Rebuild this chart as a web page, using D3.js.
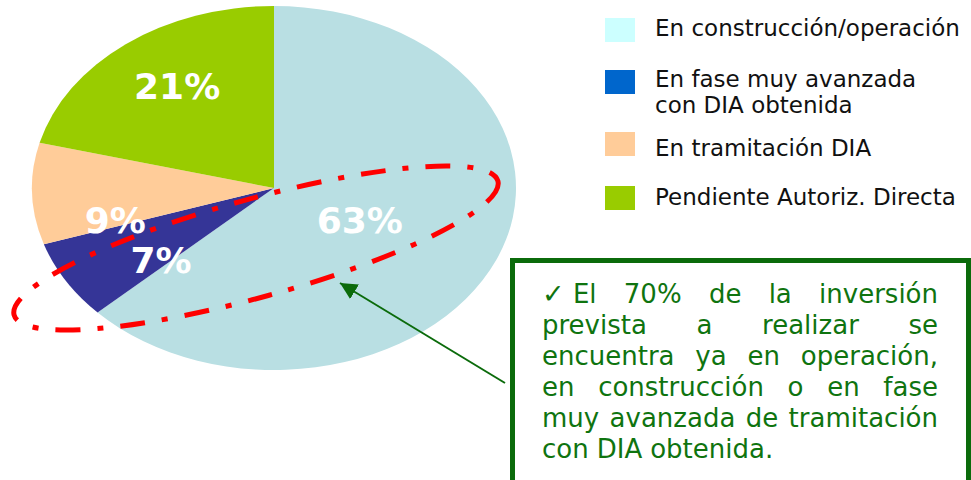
<!DOCTYPE html>
<html>
<head>
<meta charset="utf-8">
<script src="https://cdn.jsdelivr.net/npm/d3@7"></script>
<style>
body { margin: 0; background: #fff; }
svg { display: block; font-family: "DejaVu Sans", Verdana, sans-serif; }
</style>
</head>
<body>
<div class="container"></div>
<script>
// data
var categories = ["En construcción/operación", "En fase muy avanzada con DIA obtenida", "En tramitación DIA", "Pendiente Autoriz. Directa"];
var shares = [63, 7, 9, 21];
var shareLabels = ["63%", "7%", "9%", "21%"];
var legendLines = [["En construcción/operación"], ["En fase muy avanzada", "con DIA obtenida"], ["En tramitación DIA"], ["Pendiente Autoriz. Directa"]];
var noteLines = ["\u2713\u00a0El 70% de la inversión", "prevista a realizar se", "encuentra ya en operación,", "en construcción o en fase", "muy avanzada de tramitación", "con DIA obtenida."];

// styles
var pieColors = ["#b9dfe3", "#353597", "#ffcc99", "#99cc00"];
var legendColors = ["#ccffff", "#0066cc", "#ffcc99", "#99cc00"];
var labelRadius = [0.4, 0.6, 0.66, 0.68];
var labelNudge = [[-3, 3], [12, 16], [1, 28], [4, -4]];

const WIDTH = 971;
const HEIGHT = 480;
const CX = 274, CY = 188, RX = 242, RY = 182;
const GREEN = "#0b6b0b";

var translate = function(x, y){
	return "translate(" + x + "," + y + ")";
};

var svg = d3.select('.container').append('svg')
	.attr('width', WIDTH)
	.attr('height', HEIGHT);

var defs = svg.append('defs');
defs.append('marker')
	.attr('id', 'head')
	.attr('viewBox', '0 0 10 10')
	.attr('refX', 10).attr('refY', 5)
	.attr('markerUnits', 'userSpaceOnUse')
	.attr('orient', 'auto')
	.attr('markerWidth', 17).attr('markerHeight', 17)
	.append('path')
	.attr('d', 'M0,0L10,5L0,10Z')
	.attr('fill', GREEN);

// pie (flattened into an ellipse)
var pie = d3.pie().sort(null).value(function(d){ return d; });
var arcs = pie(shares);
var arc = d3.arc().innerRadius(0).outerRadius(RY);
var sx = RX / RY;

var pieG = svg.append('g')
	.attr('transform', translate(CX, CY) + " scale(" + sx + ",1)");

pieG.selectAll('path').data(arcs)
	.enter().append('path')
	.attr('d', arc)
	.attr('fill', function(d, i){ return pieColors[i]; });

svg.append('g').attr('transform', translate(CX, CY))
	.selectAll('text').data(arcs)
	.enter().append('text')
	.attr('x', function(d, i){
		var a = (d.startAngle + d.endAngle) / 2;
		return Math.sin(a) * labelRadius[i] * RY * sx + labelNudge[i][0];
	})
	.attr('y', function(d, i){
		var a = (d.startAngle + d.endAngle) / 2;
		return -Math.cos(a) * labelRadius[i] * RY + labelNudge[i][1];
	})
	.attr('dy', '0.36em')
	.attr('text-anchor', 'middle')
	.attr('font-size', 36)
	.attr('font-weight', 'bold')
	.attr('fill', '#fff')
	.text(function(d, i){ return shareLabels[i]; });

// red dash-dot ellipse highlighting
svg.append('ellipse')
	.attr('transform', translate(256, 248) + " rotate(-15.5)")
	.attr('rx', 251).attr('ry', 49)
	.attr('fill', 'none')
	.attr('stroke', '#ff0000')
	.attr('stroke-width', 5)
	.attr('stroke-dasharray', '25,17,6,17');

// legend
var legendTop = [18, 70, 132, 186];
var legendBase = [18, 17, 24, 19];
var legend = svg.append('g').attr('transform', translate(605, 0));
var items = legend.selectAll('g').data(categories)
	.enter().append('g')
	.attr('transform', function(d, i){ return translate(0, legendTop[i]); });
items.append('rect')
	.attr('width', 30).attr('height', 24)
	.attr('fill', function(d, i){ return legendColors[i]; });
items.append('text')
	.attr('font-size', 23)
	.attr('fill', '#111')
	.selectAll('tspan').data(function(d, i){
		return legendLines[i].map(function(t, j){ return {t: t, y: legendBase[i] + j * 26}; });
	})
	.enter().append('tspan')
	.attr('x', 50)
	.attr('y', function(d){ return d.y; })
	.text(function(d){ return d.t; });

// note box
svg.append('rect')
	.attr('x', 512.5).attr('y', 260.5)
	.attr('width', 456).attr('height', 240)
	.attr('fill', '#fff')
	.attr('stroke', GREEN)
	.attr('stroke-width', 5);

svg.append('line')
	.attr('x1', 505).attr('y1', 383)
	.attr('x2', 340).attr('y2', 283)
	.attr('stroke', GREEN)
	.attr('stroke-width', 2)
	.attr('marker-end', 'url(#head)');

var noteLeft = 542, noteRight = 938;
var note = svg.append('g').attr('fill', '#0f740f').attr('font-size', 26);
noteLines.forEach(function(line, li){
	var words = line.split(' ');
	var y = 303 + li * 31;
	var nodes = words.map(function(w){
		var t = note.append('text').attr('y', y);
		if (w.indexOf('\u2713') == 0) {
			t.append('tspan').attr('font-size', 27).attr('font-weight', 'bold').text('\u2713');
			t.append('tspan').text(w.slice(1));
		} else {
			t.text(w);
		}
		return t;
	});
	var widths = nodes.map(function(t){ return t.node().getComputedTextLength(); });
	var total = d3.sum(widths);
	var last = li == noteLines.length - 1;
	var gap = (last || words.length < 2) ? 8 : (noteRight - noteLeft - total) / (words.length - 1);
	var x = noteLeft;
	nodes.forEach(function(t, k){
		t.attr('x', x);
		x += widths[k] + gap;
	});
});
</script>
</body>
</html>
